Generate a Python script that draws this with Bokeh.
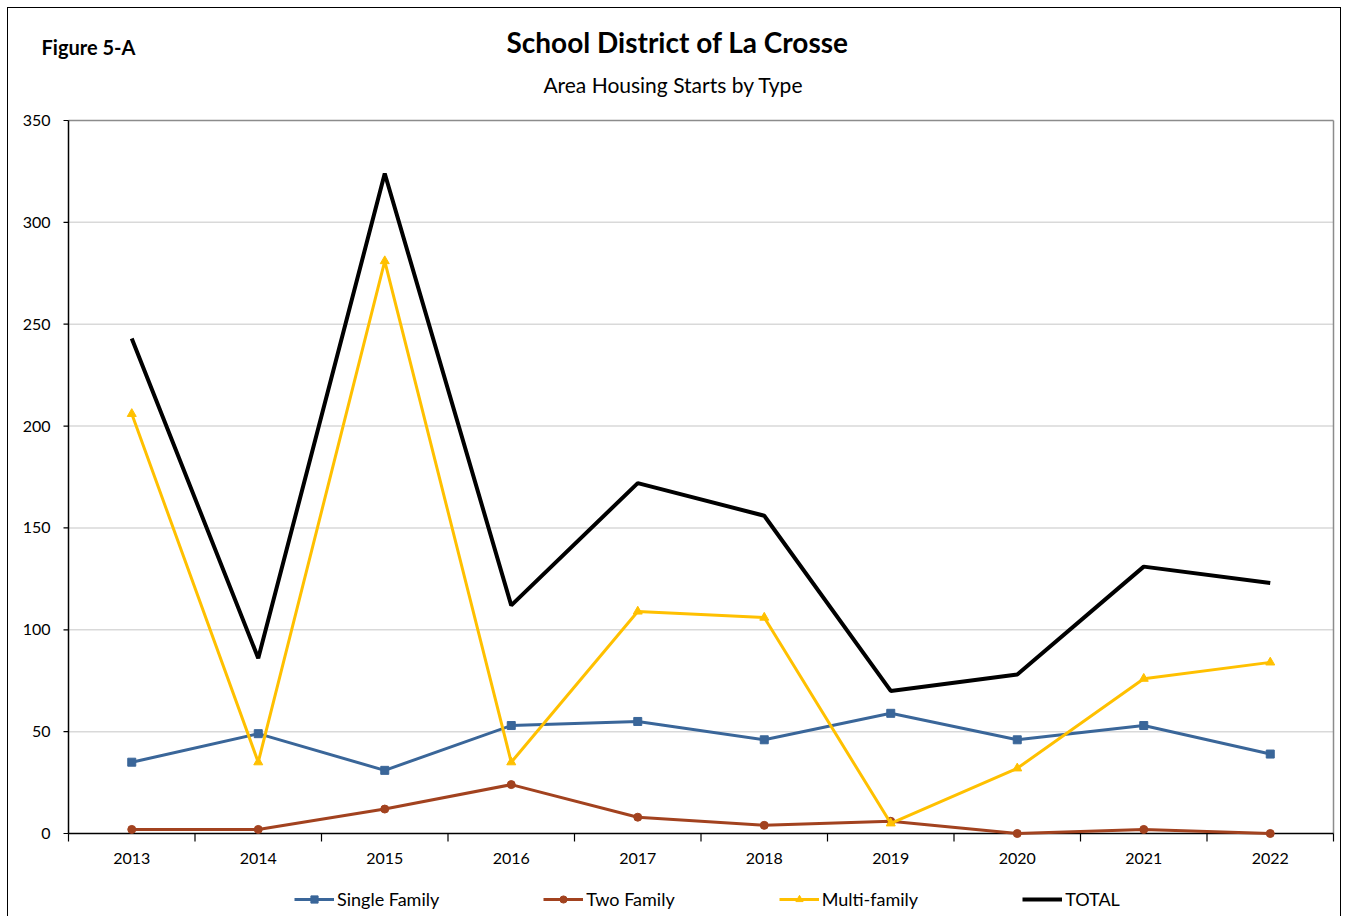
from bokeh.plotting import figure
from bokeh.models import Legend, LegendItem
from bokeh.embed import file_html
from bokeh.resources import INLINE
from bokeh.core.properties import value

# ---------------- data ----------------
years = [2013, 2014, 2015, 2016, 2017, 2018, 2019, 2020, 2021, 2022]
single_family = [35, 49, 31, 53, 55, 46, 59, 46, 53, 39]
two_family = [2, 2, 12, 24, 8, 4, 6, 0, 2, 0]
multi_family = [206, 35, 281, 35, 109, 106, 5, 32, 76, 84]
total = [243, 86, 324, 112, 172, 156, 70, 78, 131, 123]
y_ticks = [0, 50, 100, 150, 200, 250, 300, 350]
x_labels = [str(y) for y in years]
title_text = "School District of La Crosse"
subtitle_text = "Area Housing Starts by Type"
figure_label = "Figure 5-A"

FONT = "Lato"

# ---------------- layout constants (pixels) ----------------
CONTENT_W, CONTENT_H = 1332, 908
PLOT_L, PLOT_R, PLOT_T, PLOT_B = 60, 1325, 112, 825   # plot area inside content
X0, X1 = years[0] - 0.5, years[-1] + 0.5
Y0, Y1 = y_ticks[0], y_ticks[-1]
PXX = (X1 - X0) / (PLOT_R - PLOT_L)   # data units per pixel (x)
PXY = (Y1 - Y0) / (PLOT_B - PLOT_T)   # data units per pixel (y)

x_start = X0 - PLOT_L * PXX
x_end = X1 + (CONTENT_W - PLOT_R) * PXX
y_start = Y0 - (CONTENT_H - PLOT_B) * PXY
y_end = Y1 + PLOT_T * PXY

p = figure(frame_width=CONTENT_W, frame_height=CONTENT_H, output_backend="svg",
           toolbar_location=None, x_range=(x_start, x_end), y_range=(y_start, y_end),
           min_border=0, x_axis_type=None, y_axis_type=None, title=None)
p.styles = {"border": "1px solid #000000", "border-bottom": "none",
            "margin-left": "7px", "margin-top": "7px"}
p.outline_line_color = None
p.grid.visible = False

# gridlines
grid_y = y_ticks[1:-1]
p.segment(x0=[X0] * len(grid_y), y0=grid_y, x1=[X1] * len(grid_y), y1=grid_y,
          line_color="#d9d9d9", line_width=1.5)
# plot-area border (top and right)
p.segment(x0=[X0, X1], y0=[Y1, Y1], x1=[X1, X1], y1=[Y1, Y0],
          line_color="#8c8c8c", line_width=1.5)

# y axis
p.segment(x0=[X0], y0=[Y0], x1=[X0], y1=[Y1], line_color="black", line_width=1.5)
p.segment(x0=[X0 - 5 * PXX] * len(y_ticks), y0=y_ticks, x1=[X0] * len(y_ticks), y1=y_ticks,
          line_color="black", line_width=1.2)
p.text(x=[X0 - 18 * PXX] * len(y_ticks), y=y_ticks, text=[str(t) for t in y_ticks],
       text_font=value(FONT), text_font_size="16px", text_align="right",
       text_baseline="middle", text_color="black")

# x axis
bounds = [y - 0.5 for y in years] + [years[-1] + 0.5]
p.segment(x0=[X0], y0=[Y0], x1=[X1], y1=[Y0], line_color="black", line_width=1.5)
p.segment(x0=bounds, y0=[Y0] * len(bounds), x1=bounds, y1=[Y0 - 8 * PXY] * len(bounds),
          line_color="black", line_width=1.2)
p.text(x=years, y=[Y0 - 25 * PXY] * len(years), text=x_labels,
       text_font=value(FONT), text_font_size="16px", text_align="center",
       text_baseline="middle", text_color="black")

# series
c_sf = "#3A6699"
c_tf = "#A2421F"
c_mf = "#FFC000"
c_tot = "#000000"

l1 = p.line(years, single_family, line_color=c_sf, line_width=3)
m1 = p.scatter(years, single_family, marker="square", size=8, color=c_sf)
l2 = p.line(years, two_family, line_color=c_tf, line_width=3)
m2 = p.scatter(years, two_family, marker="circle", size=8, color=c_tf)
l3 = p.line(years, multi_family, line_color=c_mf, line_width=3)
m3 = p.scatter(years, multi_family, marker="triangle", size=9, color=c_mf)
l4 = p.line(years, total, line_color=c_tot, line_width=4)

legend = Legend(items=[
    LegendItem(label="Single Family", renderers=[l1, m1]),
    LegendItem(label="Two Family", renderers=[l2, m2]),
    LegendItem(label="Multi-family", renderers=[l3, m3]),
    LegendItem(label="TOTAL", renderers=[l4]),
], orientation="horizontal", location=(286, 6))
legend.label_text_font = FONT
legend.label_text_font_size = "18px"
legend.label_text_color = "black"
legend.border_line_color = None
legend.background_fill_alpha = 0
legend.glyph_width = 40
legend.glyph_height = 18
legend.label_height = 18
legend.label_standoff = 3
legend.spacing = 104
legend.margin = 0
legend.padding = 0
p.add_layout(legend, "center")

# titles
p.text(x=[X0 + 609 * PXX], y=[Y1 + 79 * PXY], text=[title_text],
       text_font=value(FONT), text_font_size="28px", text_font_style="bold",
       text_align="center", text_baseline="middle", text_color="black")
p.text(x=[X0 + 605 * PXX], y=[Y1 + 36 * PXY], text=[subtitle_text],
       text_font=value(FONT), text_font_size="21px",
       text_align="center", text_baseline="middle", text_color="black")
p.text(x=[X0 - 27 * PXX], y=[Y1 + 74 * PXY], text=[figure_label],
       text_font=value(FONT), text_font_size="20px", text_font_style="bold",
       text_align="left", text_baseline="middle", text_color="black")

open("out.html", "w").write(file_html(p, INLINE))
